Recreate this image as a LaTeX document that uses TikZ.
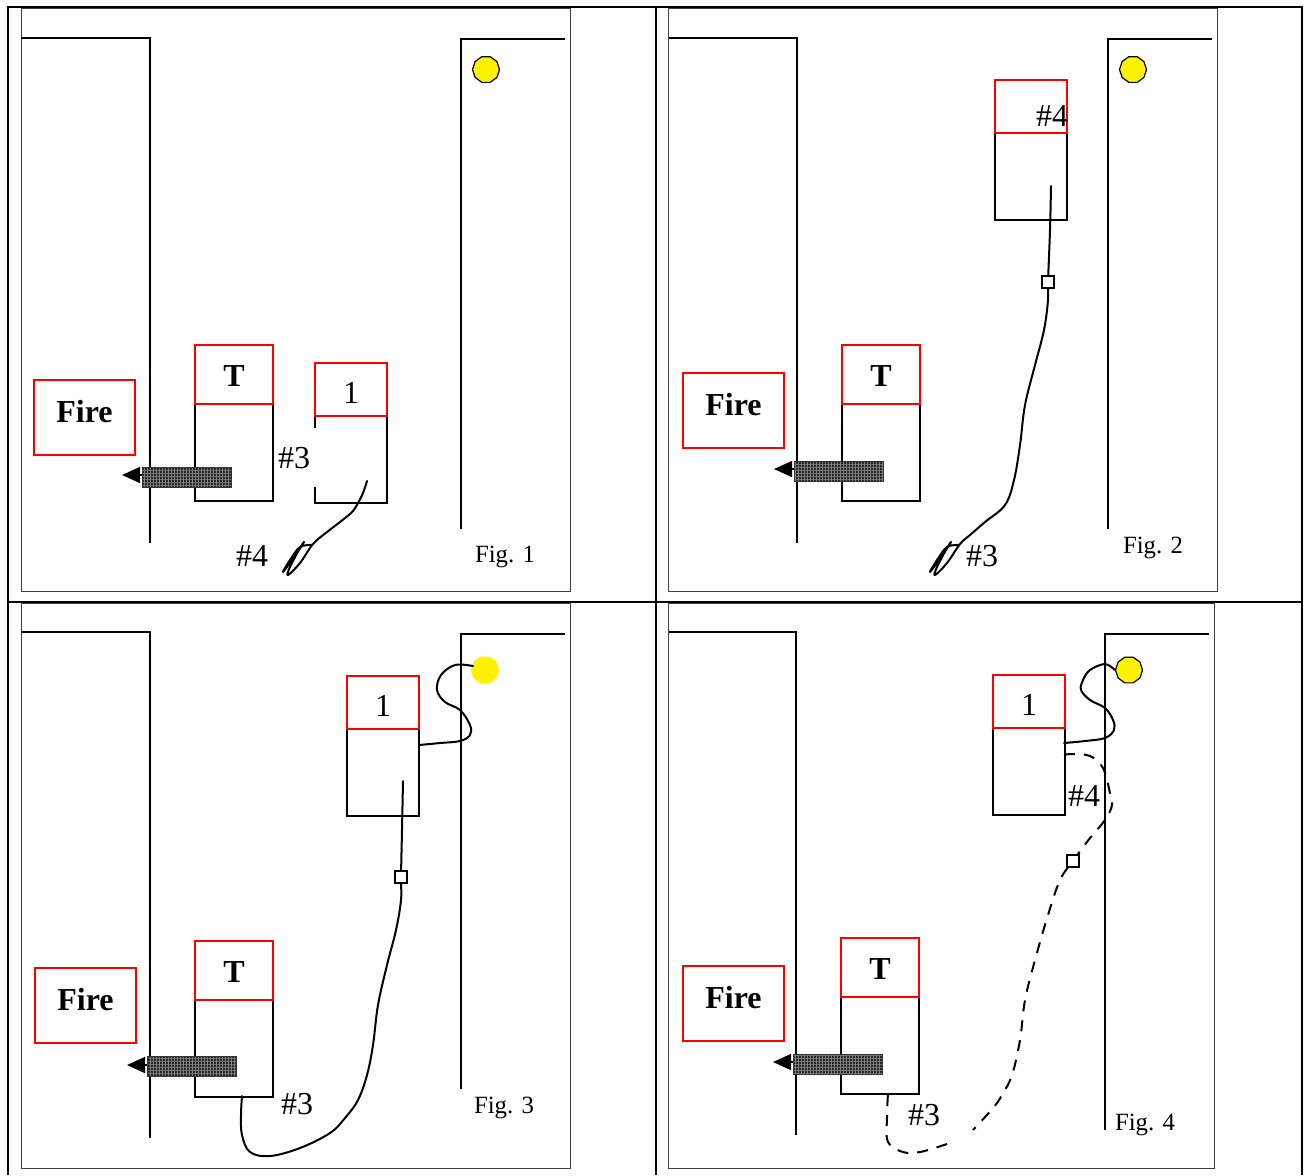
\documentclass[tikz,border=0pt]{standalone}
\usepackage{fontspec}
\setmainfont{Liberation Serif}
\usetikzlibrary{positioning,arrows.meta,patterns.meta,shapes.geometric}

\tikzset{
    cell/.style = {line width=1pt},
    frame/.style = {line width=.5pt, black!75},
    wall/.style = {line width=.7pt, line join=miter},
    cab/.style = {draw=red, line width=.8pt, inner sep=0pt, outer sep=0pt},
    towercab/.style = {cab, minimum width=39pt, minimum height=29.5pt, text height=11.6pt, font=\fontsize{16}{16}\selectfont\bfseries},
    enginecab/.style = {cab, minimum width=36pt, minimum height=26.5pt, text height=13.8pt, font=\fontsize{16}{16}\selectfont},
    firebox/.style = {cab, anchor=north west, minimum width=50.5pt, minimum height=37.5pt, text depth=6pt, font=\fontsize{16}{16}\selectfont\bfseries},
    towerbody/.style = {draw, line width=.7pt, inner sep=0pt, outer sep=0pt, anchor=north west, minimum width=39pt, minimum height=48.5pt},
    enginebody/.style = {draw, line width=.7pt, inner sep=0pt, outer sep=0pt, anchor=north west, minimum width=36pt, minimum height=43.5pt},
    ladder/.style = {draw=black!80, line width=.5pt, inner sep=0pt, outer sep=0pt, anchor=north west, minimum width=44.8pt, minimum height=10pt,
        preaction={fill=black!85}, pattern={Hatch[angle=0, distance=1.5pt, line width=.3pt]}, pattern color=black!50},
    tip/.style = {-{Triangle[length=9pt,width=8pt]}, line width=.7pt},
    lamp/.style = {regular polygon, regular polygon sides=10, draw, fill=yellow, line width=.6pt, inner sep=0pt, minimum size=13.5pt},
    valve/.style = {draw, fill=white, line width=.6pt, inner sep=0pt, outer sep=0pt, minimum size=6pt},
    hose/.style = {line width=1pt, line cap=round, line join=round},
    dashhose/.style = {hose, line cap=butt, dash pattern=on 5.5pt off 4.5pt},
    tag/.style = {font=\fontsize{16}{16}\selectfont, inner sep=0pt},
    caption/.style = {font=\fontsize{12.4}{12.4}\selectfont, inner sep=0pt},
}

\begin{document}
\begin{tikzpicture}[x=.5pt, y=-.5pt]
    \useasboundingbox (0,0) rectangle (1304,1175);

    % table
    \draw[cell] (7.5,1175) -- (7.5,7) -- (1302,7) -- (1302,1175);
    \draw[cell] (655.5,7) -- (655.5,1175);
    \draw[cell] (7.5,602) -- (1302,602);

    % frames
    \draw[frame] (21,8) rectangle (570,591);
    \draw[frame] (668,8) rectangle (1217,591);
    \draw[frame] (21,603) rectangle (570,1168);
    \draw[frame] (668,603) rectangle (1214,1168);

    % Fig. 1
    \draw[wall] (21,38) -- (150,38) -- (150,543);
    \draw[wall] (565,39) -- (461,39) -- (461,529);
    \node(lampA) [lamp] at (486,69.5) {};
    \node(fireA) [firebox] at (34,380) {Fire};
    \node(towerbodyA) [towerbody] at (195,404) {};
    \node(towerA) [towercab, above = 0 of towerbodyA] {T};
    \node(enginebodyA) [enginebody] at (315,416) {};
    \fill[white] (312,427.5) rectangle (320,487);
    \node(engineA) [enginecab, above = 0 of enginebodyA] {1};
    \node(ladderA) [ladder] at (142,467) {};
    \coordinate(tipA) at (122,475);
    \draw[tip] (ladderA.west |- tipA) -- (tipA);
    \coordinate(nozzleA) at (367,481);
    \draw[hose] plot[smooth, tension=.6] coordinates {(nozzleA) (363,493) (358,503) (352,512) (340,522) (327,532) (313,544)
        (300,563) (288,575) (290,567) (300,548) (304,542) (297,553) (283,572) (290,560) (300,547) (312,545)};
    \node(threeA) [tag] at (294,458) {\#3};
    \node(fourA) [tag] at (252,556) {\#4};
    \node(figA) [caption] at (505,557) {Fig. 1};

    % Fig. 2
    \draw[wall] (669,38) -- (797,38) -- (797,543);
    \draw[wall] (1212,39) -- (1108,39) -- (1108,529);
    \node(lampB) [lamp] at (1133,69.5) {};
    \node(fireB) [firebox] at (683,373) {Fire};
    \node(towerbodyB) [towerbody] at (842,404) {};
    \node(towerB) [towercab, above = 0 of towerbodyB] {T};
    \node(enginebodyB) [enginebody] at (995,133) {};
    \node(engineB) [enginecab, above = 0 of enginebodyB] {};
    \node(ladderB) [ladder] at (794,461) {};
    \coordinate(tipB) at (774,469);
    \draw[tip] (ladderB.west |- tipB) -- (tipB);
    \node(valveB) [valve] at (1048,282) {};
    \coordinate(nozzleB) at (1051,186);
    \draw[hose] plot[smooth, tension=.6] coordinates {(nozzleB) (1050,230) (valveB) (1048,300) (1044,330) (1035,365) (1025,405) (1020,445) (1014,480)
        (1005,505) (985,522) (970,535) (960,544)
        (947,563) (935,575) (937,567) (947,548) (951,542) (944,553) (930,572) (937,560) (947,547) (959,545)};
    \node[valve] at (valveB) {};
    \node(fourB) [tag] at (1052,116) {\#4};
    \node(threeB) [tag] at (982,556) {\#3};
    \node(figB) [caption] at (1153,548) {Fig. 2};

    % Fig. 3
    \draw[wall] (21,632) -- (150,632) -- (150,1138);
    \draw[wall] (565,634) -- (461,634) -- (461,1089);
    \node(fireC) [firebox] at (35,968) {Fire};
    \node(towerbodyC) [towerbody] at (195,1000) {};
    \node(towerC) [towercab, above = 0 of towerbodyC] {T};
    \node(enginebodyC) [enginebody] at (347,729) {};
    \node(engineC) [enginecab, above = 0 of enginebodyC] {1};
    \node(ladderC) [ladder] at (147,1056) {};
    \coordinate(tipC) at (127,1065);
    \draw[tip] (ladderC.west |- tipC) -- (tipC);
    \node(lampC) [lamp, draw=yellow] at (485,670) {};
    \coordinate(feedC) at (419,745);
    \draw[hose] plot[smooth, tension=.6] coordinates {(feedC) (440,743) (460,741) (470,735) (470,725) (460,710) (445,702) (437,690) (441,675) (455,665) (473,666)};
    \node(valveC) [valve] at (401,877) {};
    \coordinate(nozzleC) at (403,781);
    \coordinate(outletC) at (242,1096);
    \draw[hose] plot[smooth, tension=.6] coordinates {(nozzleC) (402,830) (valveC) (401,900) (396,930) (387,965) (378,1005) (373,1045) (367,1075) (358,1100)
        (345,1118) (330,1133) (300,1148) (270,1156) (250,1152) (242,1135) (241,1115) (outletC)};
    \node[valve] at (valveC) {};
    \node(threeC) [tag] at (297,1104) {\#3};
    \node(figC) [caption] at (504,1108) {Fig. 3};

    % Fig. 4
    \draw[wall] (669,632) -- (796,632) -- (796,1135);
    \draw[wall] (1209,634) -- (1105,634) -- (1105,1130);
    \node(fireD) [firebox] at (683,966) {Fire};
    \node(towerbodyD) [towerbody] at (841,997) {};
    \node(towerD) [towercab, above = 0 of towerbodyD] {T};
    \node(enginebodyD) [enginebody] at (993,728) {};
    \node(engineD) [enginecab, above = 0 of enginebodyD] {1};
    \node(ladderD) [ladder] at (793,1054) {};
    \coordinate(tipD) at (773,1062);
    \draw[tip] (ladderD.west |- tipD) -- (tipD);
    \node(lampD) [lamp] at (1129,670) {};
    \coordinate(feedD) at (1064,743);
    \draw[hose] plot[smooth, tension=.6] coordinates {(feedD) (1085,741) (1105,738) (1114,730) (1113,720) (1105,708) (1090,700) (1081,690) (1083,680) (1090,670) (1105,664) (lampD.west)};
    \node(valveD) [valve] at (1073,861) {};
    \coordinate(nozzleD) at (1064,755);
    \coordinate(outletD) at (888,1093);
    \coordinate(breakD) at (973,1130);
    \draw[dashhose] plot[smooth, tension=.6] coordinates {(nozzleD) (1072,754) (1090,756) (1103,768) (1110,793) (1112,805) (1105,820) (1090,838) (valveD)
        (1060,880) (1048,915) (1035,960) (1025,1000) (1020,1040) (1012,1075) (1002,1095) (993,1108) (breakD)};
    \draw[dashhose] plot[smooth, tension=.6] coordinates {(947,1144) (920,1152) (903,1152) (888,1142) (887,1117) (outletD)};
    \node[valve] at (valveD) {};
    \node(fourD) [tag] at (1084,796) {\#4};
    \node(threeD) [tag] at (924,1115) {\#3};
    \node(figD) [caption] at (1145,1125) {Fig. 4};
\end{tikzpicture}
\end{document}
